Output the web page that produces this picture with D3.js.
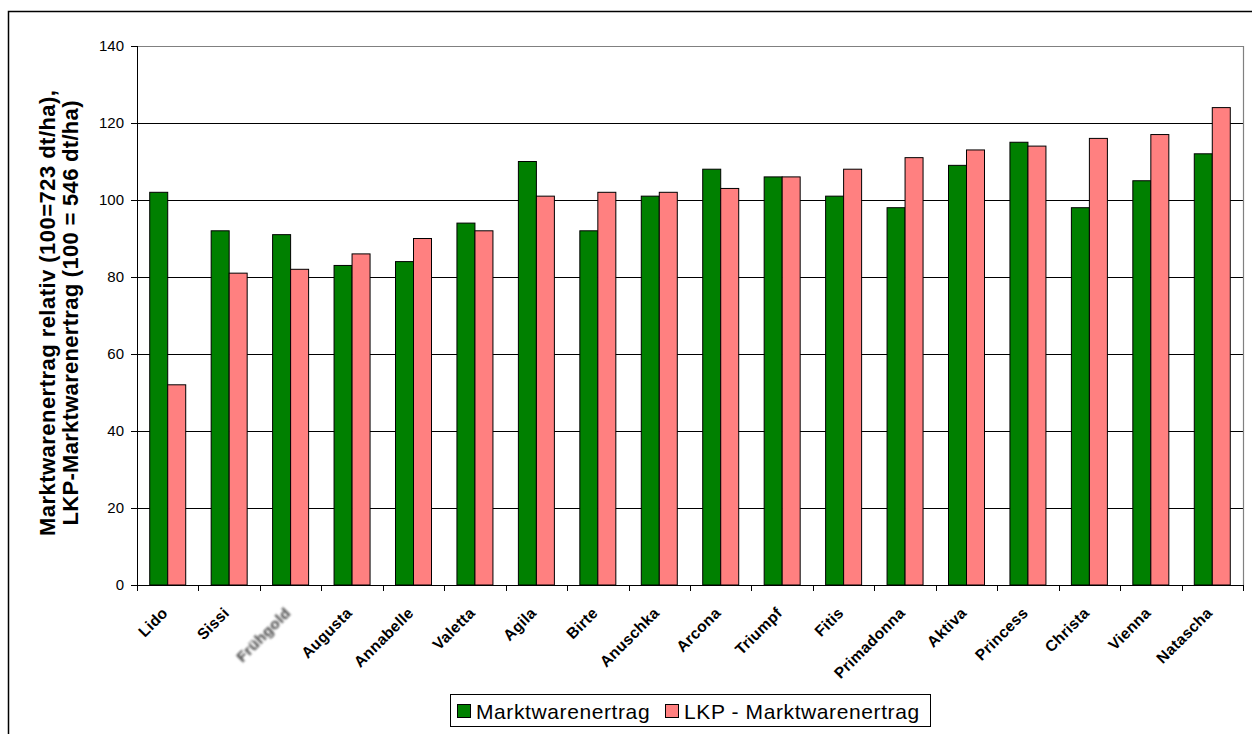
<!DOCTYPE html>
<html><head><meta charset="utf-8">
<script src="https://cdn.jsdelivr.net/npm/d3@7"></script>
<style>
html,body{margin:0;padding:0;background:#fff;}
svg{display:block;font-family:Arial,"Liberation Sans",sans-serif;}
</style></head>
<body>
<svg id="c" width="1252" height="734"></svg>
<script>
const categories = ["Lido","Sissi","Frühgold","Augusta","Annabelle","Valetta","Agila","Birte","Anuschka","Arcona","Triumpf","Fitis","Primadonna","Aktiva","Princess","Christa","Vienna","Natascha"];
const marktwarenertrag = [102,92,91,83,84,94,110,92,101,108,106,101,98,109,115,98,105,112];
const lkpMarktwarenertrag = [52,81,82,86,90,92,101,102,102,103,106,108,111,113,114,116,117,124];
const seriesNames = ["Marktwarenertrag","LKP - Marktwarenertrag"];
const yTicks = [0,20,40,60,80,100,120,140];
const colors = ["#008000","#FF8080"];

const svg = d3.select("#c");
const defs = svg.append("defs");
defs.append("filter").attr("id","blur").attr("x","-20%").attr("y","-20%").attr("width","140%").attr("height","140%")
  .append("feGaussianBlur").attr("stdDeviation",0.9);

// outer frame
svg.append("rect").attr("x",8.5).attr("y",11.5).attr("width",1260).attr("height",740)
  .attr("fill","none").attr("stroke","#000").attr("stroke-width",1.5);

const L=137, R=1243, T=46, B=585;
const x = d3.scaleBand().domain(categories).range([L,R]).paddingInner(0).paddingOuter(0);
const xs = d3.scaleBand().domain([0,1]).range([0,36]);
const y = d3.scaleLinear().domain([0,140]).range([B,T]);
const bw = x.bandwidth();

// gridlines
svg.append("g").selectAll("line").data(yTicks.filter(t=>t>0 && t<140)).join("line")
  .attr("x1",L).attr("x2",R).attr("y1",d=>y(d)+0.5).attr("y2",d=>y(d)+0.5)
  .attr("stroke","#000").attr("stroke-width",1);
// plot border top/right gray
svg.append("path").attr("d",`M${L},${T+0.5}H${R+0.5}V${B}`).attr("fill","none").attr("stroke","#808080").attr("stroke-width",1.2);

// bars
const data = categories.map((c,i)=>({c, v:[marktwarenertrag[i], lkpMarktwarenertrag[i]]}));
const g = svg.append("g");
data.forEach(d=>{
  d.v.forEach((v,j)=>{
    const x0 = x(d.c) + bw/2 - 18 + xs(j);
    g.append("rect").attr("x",x0).attr("y",y(v)).attr("width",xs.bandwidth()).attr("height",B-y(v))
      .attr("fill",colors[j]).attr("stroke","#000").attr("stroke-width",1);
  });
});

// y axis
const ya = svg.append("g").attr("transform",`translate(${L},0)`)
  .call(d3.axisLeft(y).tickValues(yTicks).tickSize(6).tickPadding(7));
ya.select(".domain").attr("d",`M0.5,${T}V${B}`).attr("stroke","#000");
ya.selectAll(".tick line").attr("stroke","#000");
ya.selectAll(".tick text").attr("font-size","15px").attr("fill","#000").attr("font-family","Arial,'Liberation Sans',sans-serif");

// x axis
svg.append("line").attr("x1",L).attr("x2",R+0.5).attr("y1",B+0.5).attr("y2",B+0.5).attr("stroke","#000");
const bounds = categories.map(c=>x(c)).concat([R]);
svg.append("g").selectAll("line").data(bounds).join("line")
  .attr("x1",d=>Math.round(d)+0.5).attr("x2",d=>Math.round(d)+0.5).attr("y1",B).attr("y2",B+6)
  .attr("stroke","#000");
svg.append("g").selectAll("text").data(categories).join("text")
  .attr("transform",c=>`translate(${x(c)+bw/2+1},${B+29}) rotate(-45)`)
  .attr("text-anchor","end")
  .attr("font-size","15.5px").attr("font-weight","bold").attr("letter-spacing","0.3px")
  .attr("fill",c=>c==="Frühgold"?"#444":"#000")
  .attr("filter",c=>c==="Frühgold"?"url(#blur)":null)
  .text(c=>c);

// y title
const yt = svg.append("text").attr("transform",`translate(0,313) rotate(-90)`)
  .attr("text-anchor","middle").attr("font-size","22px").attr("font-weight","bold");
yt.append("tspan").attr("x",0).attr("y",55).attr("textLength",446).attr("lengthAdjust","spacing")
  .text("Marktwarenertrag relativ (100=723 dt/ha),");
yt.append("tspan").attr("x",0).attr("y",78).attr("textLength",425).attr("lengthAdjust","spacing")
  .text("LKP-Marktwarenertrag (100 = 546 dt/ha)");

// legend
const lg = svg.append("g");
lg.append("rect").attr("x",450.5).attr("y",694.5).attr("width",480).attr("height",32)
  .attr("fill","#fff").attr("stroke","#000").attr("stroke-width",1);
const items = [{n:seriesNames[0],c:colors[0],x:457},{n:seriesNames[1],c:colors[1],x:665}];
items.forEach(it=>{
  lg.append("rect").attr("x",it.x+0.5).attr("y",704.5).attr("width",13).attr("height",13)
    .attr("fill",it.c).attr("stroke","#000").attr("stroke-width",1);
  lg.append("text").attr("x",it.x+19).attr("y",719)
    .attr("font-size","21px").attr("letter-spacing","0.6px").attr("fill","#000").text(it.n);
});
</script>
</body></html>
